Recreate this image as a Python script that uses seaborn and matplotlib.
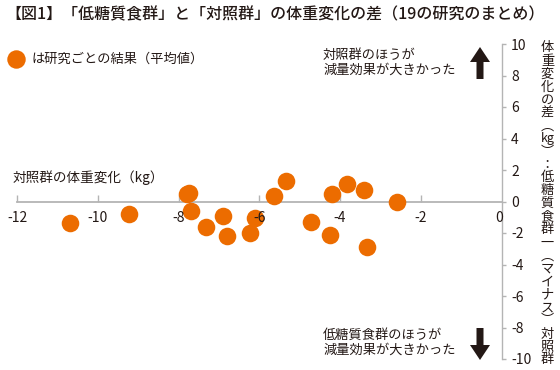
import matplotlib
matplotlib.use("Agg")
import matplotlib.pyplot as plt
import seaborn as sns
import pandas as pd

# ---- data ----
control_change = [-10.69, -9.23, -7.80, -7.74, -7.70, -7.32, -6.91, -6.81, -6.23, -6.10,
                  -5.64, -5.34, -4.72, -4.25, -4.21, -3.83, -3.41, -3.34, -2.58]
diff_change = [-1.39, -0.78, 0.49, 0.55, -0.61, -1.62, -0.89, -2.20, -1.98, -1.03,
               0.34, 1.33, -1.31, -2.13, 0.49, 1.08, 0.72, -2.87, -0.04]
x_ticks = [-12, -10, -8, -6, -4, -2, 0]
x_tick_labels = ["-12", "-10", "-8", "-6", "-4", "-2", "0"]
y_ticks = [10, 8, 6, 4, 2, 0, -2, -4, -6, -8, -10]
y_tick_labels = ["10", "8", "6", "4", "2", "0", "-2", "-4", "-6", "-8", "-10"]

title = "【図1】「低糖質食群」と「対照群」の体重変化の差（19の研究のまとめ）"
legend_label = "は研究ごとの結果（平均値）"
x_label = "対照群の体重変化（kg）"
y_label_chars = ["体", "重", "変", "化", "の", "差", "︵", "kg", "︶", "：", "低", "糖", "質",
                 "食", "群", "一", "︵", "マ", "イ", "ナ", "ス", "︶", "対", "照", "群"]
note_up = "対照群のほうが\n減量効果が大きかった"
note_down = "低糖質食群のほうが\n減量効果が大きかった"

df = pd.DataFrame({"control": control_change, "diff": diff_change})

sns.set_theme(style="white")
plt.rcParams["font.family"] = ["Noto Sans CJK JP", "DejaVu Sans"]
plt.rcParams["axes.unicode_minus"] = False

ORANGE = "#EC6C00"
TXT = "#231815"
GRAY = "#b4b4b4"

W, H = 560, 370
fig = plt.figure(figsize=(5.6, 3.7), dpi=100)
fig.patch.set_facecolor("white")
left_px, right_px, top_px, bot_px = 17, 501.5, 44, 359
ax = fig.add_axes([left_px / W, 1 - bot_px / H, (right_px - left_px) / W, (bot_px - top_px) / H])
ax.set_facecolor("none")

sns.scatterplot(data=df, x="control", y="diff", ax=ax, s=160, color=ORANGE,
                linewidth=0, label=legend_label, zorder=3, clip_on=False)

ax.set_xlim(-12, 0)
ax.set_ylim(-10, 10)
ax.set_xlabel("")
ax.set_ylabel("")

for s in ["top", "left"]:
    ax.spines[s].set_visible(False)
ax.spines["bottom"].set_position(("data", 0))
ax.spines["bottom"].set_color(GRAY)
ax.spines["bottom"].set_linewidth(1.3)
ax.spines["right"].set_color(GRAY)
ax.spines["right"].set_linewidth(1.0)

# x ticks: marks pointing up from the zero line, labels drawn below the line
ax.set_xticks(x_ticks[:-1])
ax.tick_params(axis="x", direction="in", length=5, width=1.0, color=GRAY,
               bottom=True, labelbottom=False)
for xv, lab in zip(x_ticks, x_tick_labels):
    dx = -2 if xv == 0 else 0
    ax.annotate(lab, xy=(xv, 0), xytext=(dx, -12), textcoords="offset points",
                ha="center", va="center", fontsize=10, color=TXT, zorder=4)

ax.yaxis.tick_right()
ax.set_yticks(y_ticks)
ax.set_yticklabels(y_tick_labels)
ax.tick_params(axis="y", direction="out", length=3, width=1.0, color=GRAY,
               labelsize=10, labelcolor=TXT, pad=4, right=True, left=False)

# legend
leg = ax.legend(loc="center left", bbox_to_anchor=(9.5 / W, 1 - 59 / H),
                bbox_transform=fig.transFigure, frameon=False, fontsize=9.5,
                handlelength=1.0, handletextpad=0.65, borderpad=0, borderaxespad=0,
                markerscale=1.05)
for t in leg.get_texts():
    t.set_color(TXT)

# texts
fig.text(5 / W, 1 - 15 / H, title, fontsize=11.5, color=TXT, ha="left", va="center",
         fontweight="medium")
fig.text(13 / W, 1 - 178 / H, x_label, fontsize=9.8, color=TXT, ha="left", va="center")
fig.text(323 / W, 1 - 63 / H, note_up, fontsize=9.5, color=TXT, ha="left", va="center",
         linespacing=1.2)
fig.text(323 / W, 1 - 343 / H, note_down, fontsize=9.5, color=TXT, ha="left", va="center",
         linespacing=1.2)

# arrows
fig.patches.append(matplotlib.patches.FancyArrow(
    480 / W, 1 - 79 / H, 0, 32 / H, width=7 / W, head_width=20 / W, head_length=15 / H,
    length_includes_head=True, transform=fig.transFigure, color="#231815", lw=0))
fig.patches.append(matplotlib.patches.FancyArrow(
    480 / W, 1 - 328 / H, 0, -32 / H, width=7 / W, head_width=20 / W, head_length=15 / H,
    length_includes_head=True, transform=fig.transFigure, color="#231815", lw=0))

# vertical y-axis label (one glyph per row)
y0, y1 = 48, 360
n = len(y_label_chars)
for i, ch in enumerate(y_label_chars):
    yp = y0 + (y1 - y0) * i / (n - 1)
    fs = 9 if ch == "kg" else 9.5
    fig.text(547.5 / W, 1 - yp / H, ch, fontsize=fs, color=TXT, ha="center", va="center")

fig.savefig("out.png", dpi=100)
